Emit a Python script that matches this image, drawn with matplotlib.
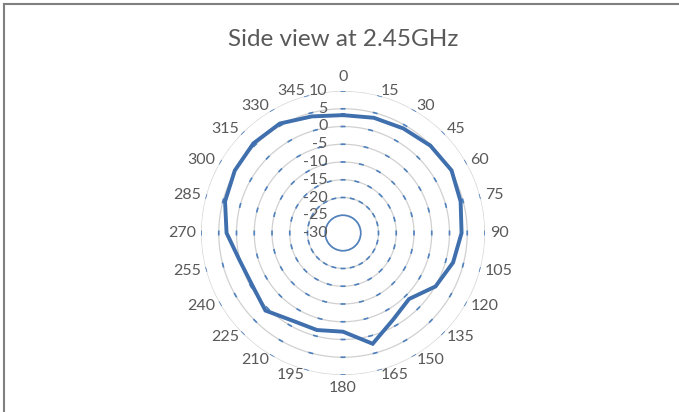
import numpy as np
import matplotlib
matplotlib.use("Agg")
import matplotlib.pyplot as plt
from matplotlib.lines import Line2D

# ---- data ----
angles_deg = [0, 15, 30, 45, 60, 75, 90, 105, 120, 135, 150, 165,
              180, 195, 210, 225, 240, 255, 270, 285, 300, 315, 330, 345]
gain_db = [3.2, 3.6, 4.0, 4.8, 5.3, 4.3, 3.4, 2.1, 0.1, -3.7, -1.8, 2.3,
           -2.2, -1.7, -1.5, 0.9, -0.5, 0.1, 2.8, 4.4, 5.2, 5.7, 5.6, 4.0]
category_labels = [str(a) for a in angles_deg]
ring_values = [-30, -25, -20, -15, -10, -5, 0, 5, 10]
ring_labels = [str(v) for v in ring_values]
title = "Side view at 2.45GHz"

r_min, r_max = -30, 10

plt.rcParams['font.family'] = ['Lato', 'DejaVu Sans']
text_color = '#595959'
line_color = '#3F6FAD'
dash_color = '#4F81BD'
grid_color = '#D0D0D0'

W, H = 679, 412
fig = plt.figure(figsize=(W / 100, H / 100), dpi=100)

# border (top and left edges visible)
fig.add_artist(Line2D([3.5 / W, 3.5 / W], [0, 1 - 3.5 / H], color='#808080', lw=1.5,
                      transform=fig.transFigure))
fig.add_artist(Line2D([3.5 / W, 1], [1 - 3.5 / H, 1 - 3.5 / H], color='#808080', lw=1.5,
                      transform=fig.transFigure))

cx, cy, R = 343, 233, 142
ax = fig.add_axes([(cx - R) / W, (H - cy - R) / H, 2 * R / W, 2 * R / H], projection='polar')
ax.set_theta_zero_location('N')
ax.set_theta_direction(-1)
ax.set_ylim(r_min, r_max)
ax.grid(False)
ax.spines['polar'].set_visible(False)
ax.set_xticks([])
ax.set_yticks([])
ax.patch.set_alpha(0)

theta_full = np.linspace(0, 2 * np.pi, 361)
theta_cat = np.deg2rad(angles_deg)
px_per_unit = R / (r_max - r_min)
dash_half_px = 2.5
for v in ring_values:
    if v == r_min:
        continue
    ax.plot(theta_full, np.full_like(theta_full, v), color=grid_color, lw=0.9, zorder=1)
    rpx = (v - r_min) * px_per_unit
    d = dash_half_px / rpx
    for t in theta_cat:
        tt = np.linspace(t - d, t + d, 5)
        ax.plot(tt, np.full_like(tt, v), color=dash_color, lw=1.2, zorder=2,
                solid_capstyle='butt')

# data polygon
th = np.append(theta_cat, theta_cat[0])
gv = np.append(gain_db, gain_db[0])
ax.plot(th, gv, color=line_color, lw=2.8, zorder=5, solid_joinstyle='miter')

# category labels (Excel-style anchoring)
for a, t, lab in zip(angles_deg, theta_cat, category_labels):
    if a == 0:
        ha, va, rr = 'center', 'bottom', r_max + 1.9
    elif a == 180:
        ha, va, rr = 'center', 'top', r_max + 1.6
    elif a < 180:
        ha, va, rr = 'left', 'center', r_max + 1.4
    else:
        ha, va, rr = 'right', 'center', r_max + 1.4
    ax.text(t, rr, lab, ha=ha, va=va, fontsize=11.5, color=text_color, clip_on=False)

# radial labels
for v, lab in zip(ring_values, ring_labels):
    ax.annotate(lab, xy=(0, v), xytext=(-11, 0), textcoords='offset points',
                ha='right', va='center', fontsize=11.5, color=text_color,
                annotation_clip=False, zorder=6)

fig.text(cx / W, 1 - 39 / H, title, ha='center', va='center', fontsize=17.5,
         color=text_color)

fig.savefig('out.png', dpi=100, facecolor='white')
